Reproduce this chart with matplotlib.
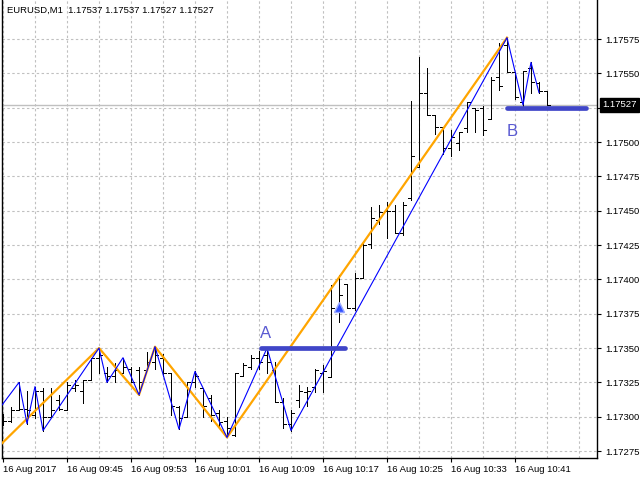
import matplotlib
matplotlib.use('Agg')
import matplotlib.pyplot as plt
import numpy as np

plt.rcParams['font.family'] = ['Liberation Sans', 'DejaVu Sans']

# OHLC of the EURUSD M1 bars, 09:37 .. 10:45
opens = [1.17299, 1.17297, 1.17305, 1.17306, 1.17301, 1.17319, 1.17300, 1.17312, 1.17305, 1.17321,
         1.17319, 1.17327, 1.17343, 1.17332, 1.17330, 1.17332, 1.17335, 1.17334, 1.17334, 1.17340,
         1.17343, 1.17332, 1.17307, 1.17300, 1.17325, 1.17321, 1.17314, 1.17303, 1.17297, 1.17287,
         1.17330, 1.17336, 1.17343, 1.17345, 1.17334, 1.17311, 1.17295, 1.17312, 1.17318, 1.17322,
         1.17332, 1.17329, 1.17379, 1.17397, 1.17379, 1.17401, 1.17426, 1.17443, 1.17450, 1.17450,
         1.17434, 1.17459, 1.17482, 1.17536, 1.17520, 1.17511, 1.17496, 1.17499, 1.17510, 1.17525,
         1.17525, 1.17517, 1.17547, 1.17571, 1.17551, 1.17529, 1.17554, 1.17543, 1.17537]
highs = [1.17302, 1.17307, 1.17325, 1.17319, 1.17322, 1.17321, 1.17321, 1.17316, 1.17325, 1.17327,
         1.17327, 1.17343, 1.17350, 1.17336, 1.17339, 1.17343, 1.17336, 1.17336, 1.17347, 1.17351,
         1.17346, 1.17332, 1.17308, 1.17325, 1.17333, 1.17321, 1.17316, 1.17305, 1.17300, 1.17332,
         1.17339, 1.17345, 1.17348, 1.17350, 1.17340, 1.17314, 1.17305, 1.17323, 1.17322, 1.17335,
         1.17338, 1.17396, 1.17403, 1.17397, 1.17405, 1.17427, 1.17453, 1.17454, 1.17456, 1.17454,
         1.17456, 1.17530, 1.17562, 1.17554, 1.17520, 1.17511, 1.17509, 1.17507, 1.17529, 1.17525,
         1.17526, 1.17547, 1.17572, 1.17576, 1.17551, 1.17552, 1.17558, 1.17544, 1.17537]
lows = [1.17294, 1.17296, 1.17305, 1.17295, 1.17299, 1.17290, 1.17300, 1.17305, 1.17305, 1.17319,
        1.17310, 1.17327, 1.17332, 1.17325, 1.17325, 1.17332, 1.17325, 1.17316, 1.17334, 1.17335,
        1.17330, 1.17301, 1.17291, 1.17300, 1.17322, 1.17300, 1.17297, 1.17292, 1.17285, 1.17286,
        1.17330, 1.17335, 1.17335, 1.17332, 1.17311, 1.17292, 1.17290, 1.17307, 1.17308, 1.17318,
        1.17318, 1.17329, 1.17369, 1.17379, 1.17378, 1.17401, 1.17423, 1.17440, 1.17430, 1.17434,
        1.17432, 1.17458, 1.17482, 1.17520, 1.17506, 1.17491, 1.17490, 1.17494, 1.17507, 1.17507,
        1.17505, 1.17517, 1.17538, 1.17551, 1.17531, 1.17525, 1.17536, 1.17536, 1.17527]
closes = [1.17297, 1.17305, 1.17306, 1.17305, 1.17319, 1.17300, 1.17305, 1.17306, 1.17323, 1.17323,
          1.17327, 1.17343, 1.17345, 1.17330, 1.17334, 1.17336, 1.17325, 1.17325, 1.17340, 1.17345,
          1.17332, 1.17308, 1.17299, 1.17325, 1.17330, 1.17308, 1.17301, 1.17296, 1.17292, 1.17332,
          1.17338, 1.17343, 1.17340, 1.17340, 1.17311, 1.17295, 1.17303, 1.17319, 1.17319, 1.17334,
          1.17333, 1.17379, 1.17389, 1.17379, 1.17401, 1.17425, 1.17445, 1.17449, 1.17450, 1.17434,
          1.17454, 1.17490, 1.17536, 1.17520, 1.17511, 1.17496, 1.17504, 1.17507, 1.17529, 1.17523,
          1.17509, 1.17545, 1.17541, 1.17551, 1.17533, 1.17552, 1.17544, 1.17537, 1.17527]

# zigzag turning points (bar index, price)
zz_small_bars = [-2, 2, 3, 4, 5, 12, 13, 15, 17, 19, 22, 24, 28, 33, 36, 63, 65, 66, 67]
zz_small_prices = [1.17294, 1.17325, 1.17295, 1.17322, 1.17290, 1.17350, 1.17325, 1.17343, 1.17316,
                   1.17351, 1.17291, 1.17333, 1.17285, 1.17350, 1.17290, 1.17576, 1.17527, 1.17558, 1.17536]
zz_big_bars = [-2, 12, 17, 19, 28, 63]
zz_big_prices = [1.17270, 1.17350, 1.17316, 1.17351, 1.17285, 1.17576]

# A / B level objects
level_names = ['A', 'B']
level_prices = [1.17350, 1.17525]
level_from = [32.3, 63.0]
level_to = [42.7, 72.9]

signal_bar = 42
signal_price = 1.17380

bid = 1.17527
header = 'EURUSD,M1  1.17537 1.17537 1.17527 1.17527'

time_ticks = [0, 8, 16, 24, 32, 40, 48, 56, 64]
time_labels = ['16 Aug 2017', '16 Aug 09:45', '16 Aug 09:53', '16 Aug 10:01', '16 Aug 10:09',
               '16 Aug 10:17', '16 Aug 10:25', '16 Aug 10:33', '16 Aug 10:41']
price_ticks = [1.17275, 1.17300, 1.17325, 1.17350, 1.17375, 1.17400, 1.17425, 1.17450,
               1.17475, 1.17500, 1.17525, 1.17550, 1.17575]

fig = plt.figure(figsize=(6.4, 4.8), dpi=100)
ax = fig.add_axes([2 / 640, 1 - 458 / 480, 595 / 640, 458 / 480])
ax.set_xlim(-0.125, 74.25)
ax.set_ylim(1.1726999, 1.1760340)

grid_style = dict(color='#c0c0c0', linewidth=0.8, linestyle=(0, (2.2, 2.2)))
minor = [k for k in range(0, 75, 4) if k not in time_ticks]
ax.set_xticks(time_ticks)
ax.set_xticks(minor, minor=True)
ax.set_xticklabels(time_labels, ha='left', fontsize=6.8)
ax.set_yticks(price_ticks)
# the bid box hides the label nearest to it, as in the terminal
ax.set_yticklabels(['' if abs(p - bid) < 0.0001 else '%.5f' % p for p in price_ticks], fontsize=6.8)
ax.yaxis.tick_right()
ax.tick_params(axis='x', which='major', length=3, width=0.8, pad=2)
ax.tick_params(axis='x', which='minor', length=0)
ax.tick_params(axis='y', length=3, width=0.8, pad=3)
ax.grid(True, which='both', axis='x', **grid_style)
ax.grid(True, which='major', axis='y', **grid_style)
ax.set_axisbelow(True)
ax.spines['top'].set_visible(False)
for s in ['left', 'right', 'bottom']:
    ax.spines[s].set_linewidth(1.0)

# current bid line
ax.axhline(bid, color='#c0c0c0', linewidth=1.0, zorder=1)

# bars
x = np.arange(len(opens))
bar_style = dict(color='black', linewidth=0.72, antialiased=False, zorder=2)
ax.vlines(x, lows, highs, **bar_style)
ax.hlines(opens, x - 0.4, x, **bar_style)
ax.hlines(closes, x, x + 0.4, **bar_style)

ax.plot(zz_big_bars, zz_big_prices, color='#ffa500', linewidth=1.6, zorder=3)
ax.plot(zz_small_bars, zz_small_prices, color='#0000ff', linewidth=0.8, zorder=4)

for name, p, x0, x1 in zip(level_names, level_prices, level_from, level_to):
    ax.plot([x0, x1], [p, p], color='#4046c8', linewidth=3.4, solid_capstyle='round', zorder=5)
ax.text(level_from[0] - 0.2, level_prices[0] + 0.00005, 'A', color='#5a5ad2', fontsize=12,
        ha='left', va='bottom', zorder=6)
ax.text(level_from[1], level_prices[1] - 0.00012, 'B', color='#5a5ad2', fontsize=12,
        ha='left', va='top', zorder=6)

ax.plot([signal_bar], [signal_price], marker='^', markersize=7, color='#3050ff',
        markeredgecolor='#9aa8ff', zorder=6)

# bid label box
ax.annotate('%.5f' % bid, xy=(1.0, bid), xycoords=('axes fraction', 'data'),
            xytext=(4, 0), textcoords='offset points', ha='left', va='center',
            fontsize=6.8, color='white', annotation_clip=False, zorder=10,
            bbox=dict(boxstyle='square,pad=0.25', facecolor='black', edgecolor='black'))

fig.text(7 / 640, 1 - 10.5 / 480, header, fontsize=6.8, ha='left', va='center')

fig.savefig('out.png', dpi=100)
